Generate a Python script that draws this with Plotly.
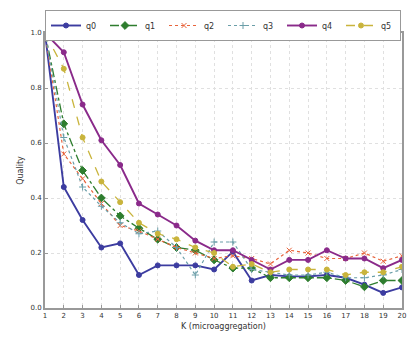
import plotly.graph_objects as go

K = list(range(1, 21))
q0 = [1.0, 0.44, 0.32, 0.22, 0.235, 0.12, 0.155, 0.155, 0.155, 0.14, 0.205, 0.10, 0.12, 0.115, 0.115, 0.12, 0.11, 0.085, 0.055, 0.075]
q1 = [1.0, 0.67, 0.50, 0.40, 0.335, 0.29, 0.25, 0.22, 0.21, 0.175, 0.145, 0.145, 0.11, 0.11, 0.11, 0.11, 0.10, 0.077, 0.10, 0.10]
q2 = [1.0, 0.56, 0.47, 0.38, 0.30, 0.28, 0.25, 0.22, 0.20, 0.18, 0.19, 0.18, 0.16, 0.21, 0.20, 0.18, 0.18, 0.20, 0.17, 0.19]
q3 = [1.0, 0.62, 0.44, 0.37, 0.31, 0.27, 0.28, 0.22, 0.12, 0.24, 0.24, 0.14, 0.13, 0.12, 0.12, 0.13, 0.11, 0.11, 0.12, 0.14]
q4 = [1.0, 0.93, 0.74, 0.61, 0.52, 0.38, 0.34, 0.30, 0.245, 0.21, 0.21, 0.175, 0.14, 0.175, 0.175, 0.21, 0.18, 0.18, 0.145, 0.175]
q5 = [1.0, 0.87, 0.62, 0.46, 0.385, 0.31, 0.27, 0.25, 0.22, 0.20, 0.15, 0.16, 0.13, 0.14, 0.14, 0.14, 0.12, 0.13, 0.13, 0.15]

series = [
    ("q0", q0, "#3c3ca0", "solid", "circle", 5, 1.9),
    ("q1", q1, "#2e7d2e", "dashdot", "diamond", 6, 1.3),
    ("q2", q2, "#e8643c", "dot", "x-thin-open", 5, 1.2),
    ("q3", q3, "#6a9ea8", "dot", "cross-thin-open", 5, 1.2),
    ("q4", q4, "#8a2a8a", "solid", "circle", 5, 1.9),
    ("q5", q5, "#c9b43c", "dash", "circle", 5, 1.3),
]

fig = go.Figure()
for name, vals, color, dash, sym, ms, lw in series:
    fig.add_trace(go.Scatter(
        x=K, y=vals, name=name, mode="lines+markers",
        line=dict(color=color, dash=dash, width=lw),
        marker=dict(symbol=sym, size=ms, color=color, line=dict(color=color, width=1)),
    ))

fig.update_layout(
    width=408, height=338,
    margin=dict(l=45, r=6, t=33, b=30, autoexpand=False),
    paper_bgcolor="white", plot_bgcolor="white",
    font=dict(family="DejaVu Sans", size=7, color="#333333"),
    showlegend=True,
    legend=dict(
        orientation="h", xref="container", yref="container",
        x=45 / 408, xanchor="left", y=1 - 10 / 338, yanchor="top",
        bordercolor="#999999", borderwidth=1, bgcolor="white",
        font=dict(size=8), entrywidth=14, entrywidthmode="pixels",
        itemwidth=30, tracegroupgap=0,
    ),
)
fig.update_xaxes(
    range=[1, 20], tickmode="array", tickvals=K, ticktext=[str(k) for k in K],
    showgrid=True, gridcolor="#e0e0e0", griddash="dot", gridwidth=1,
    showline=True, linecolor="#999999", linewidth=2, mirror=True,
    ticks="inside", ticklen=3, tickcolor="#999999",
    title=dict(text="K (microaggregation)", font=dict(size=8), standoff=4),
    zeroline=False,
)
fig.update_yaxes(
    range=[0, 1.0], tickmode="array", tickvals=[0, 0.2, 0.4, 0.6, 0.8, 1.0],
    ticktext=["0.0", "0.2", "0.4", "0.6", "0.8", "1.0"],
    showgrid=True, gridcolor="#e0e0e0", griddash="dot", gridwidth=1,
    showline=True, linecolor="#999999", linewidth=2, mirror=True,
    ticks="inside", ticklen=3, tickcolor="#999999",
    title=dict(text="Quality", font=dict(size=8), standoff=6),
    zeroline=False,
)

fig.write_html("out.html", config={"displayModeBar": False},
               post_script="document.body.style.margin='0';document.body.style.overflow='hidden';")
